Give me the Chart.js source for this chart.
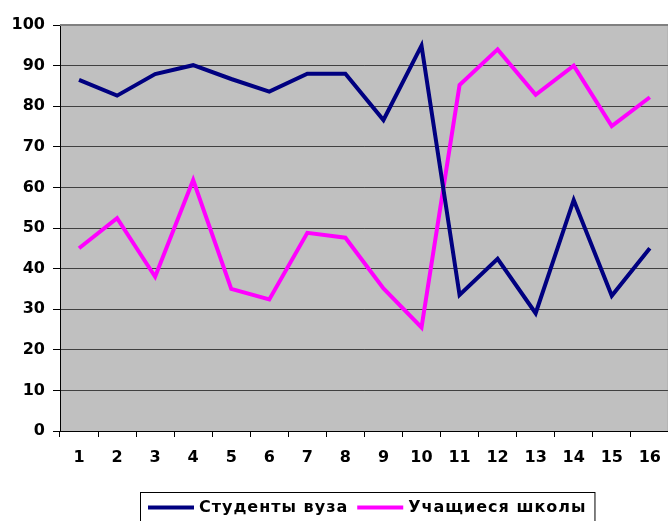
<!DOCTYPE html>
<html>
<head>
<meta charset="utf-8">
<script src="https://cdn.jsdelivr.net/npm/chart.js@4/dist/chart.umd.min.js"></script>
<style>
  html, body { margin: 0; padding: 0; background: #fff; overflow: hidden; }
  canvas { display: block; }
</style>
</head>
<body>
<canvas id="chart" width="672" height="521"></canvas>
<script>
// Survey groups, one point per question number
const categories = ['1','2','3','4','5','6','7','8','9','10','11','12','13','14','15','16'];
const studentsUni = [86.5, 82.6, 87.9, 90.1, 86.7, 83.6, 88, 88, 76.6, 94.9, 33.5, 42.4, 29, 56.9, 33.3, 45];
const schoolPupils = [45, 52.4, 38, 61.8, 35, 32.4, 48.8, 47.6, 35.1, 25.5, 85.2, 94, 82.8, 90, 75.1, 82.2];
const seriesNames = ['Студенты вуза', 'Учащиеся школы'];
const yTicks = { min: 0, max: 100, step: 10 };

const tickFont = { family: 'DejaVu Sans', size: 16, weight: 'bold' };

// Gray plot area and its border
const plotArea = {
  id: 'plotArea',
  beforeDraw(chart) {
    const { ctx, chartArea: a } = chart;
    ctx.save();
    ctx.fillStyle = '#C0C0C0';
    ctx.fillRect(a.left, a.top, a.right - a.left, a.bottom - a.top);
    ctx.restore();
  },
  beforeDatasetsDraw(chart) {
    const { ctx, chartArea: a } = chart;
    ctx.save();
    ctx.strokeStyle = '#808080';
    ctx.lineWidth = 2;
    ctx.beginPath();
    ctx.moveTo(a.left, a.top);
    ctx.lineTo(a.right, a.top);
    ctx.lineTo(a.right, a.bottom);
    ctx.stroke();
    ctx.restore();
  }
};

// Framed legend below the axis labels
const boxedLegend = {
  id: 'boxedLegend',
  afterDraw(chart) {
    const { ctx, chartArea: a } = chart;
    const pad = 8, sample = 46, gap = 5, itemGap = 9;
    const cy = 507.5;
    ctx.save();
    ctx.font = 'bold 16px "DejaVu Sans"';
    ctx.letterSpacing = '1px';
    ctx.textBaseline = 'middle';
    const items = chart.data.datasets.map(ds => ({
      label: ds.label, color: ds.borderColor, w: ctx.measureText(ds.label).width
    }));
    let total = pad * 2 - itemGap;
    items.forEach(it => { total += sample + gap + it.w + itemGap; });
    const left = Math.round((a.left + a.right) / 2 + 3 - total / 2);
    ctx.strokeStyle = '#000';
    ctx.lineWidth = 1;
    ctx.strokeRect(left + 0.5, 492.5, total, 34);
    let x = left + pad;
    items.forEach(it => {
      ctx.strokeStyle = it.color;
      ctx.lineWidth = 4;
      ctx.beginPath();
      ctx.moveTo(x, cy);
      ctx.lineTo(x + sample, cy);
      ctx.stroke();
      x += sample + gap;
      ctx.fillStyle = '#000';
      ctx.fillText(it.label, x, cy);
      x += it.w + itemGap;
    });
    ctx.restore();
  }
};

const lineStyle = { borderWidth: 4, pointRadius: 0, tension: 0, borderJoinStyle: 'miter', borderCapStyle: 'butt', fill: false };

new Chart(document.getElementById('chart'), {
  type: 'line',
  data: {
    labels: categories,
    datasets: [
      Object.assign({ label: seriesNames[0], data: studentsUni, borderColor: '#000080', backgroundColor: '#000080' }, lineStyle),
      Object.assign({ label: seriesNames[1], data: schoolPupils, borderColor: '#FF00FF', backgroundColor: '#FF00FF' }, lineStyle)
    ]
  },
  options: {
    responsive: false,
    animation: false,
    devicePixelRatio: 1,
    layout: { padding: { left: 0, right: 1.5, top: 25, bottom: 0 } },
    plugins: { legend: { display: false }, tooltip: { enabled: false } },
    scales: {
      x: {
        type: 'category',
        offset: true,
        afterFit(s) { s.height = 90; },
        grid: { offset: true, drawOnChartArea: false, tickLength: 6, tickColor: '#000', color: '#000' },
        border: { color: '#000', width: 1 },
        ticks: { color: '#000', font: tickFont, padding: 11, maxRotation: 0, autoSkip: false }
      },
      y: {
        min: yTicks.min,
        max: yTicks.max,
        afterFit(s) { s.width = 60; },
        grid: { color: '#404040', lineWidth: 1, tickLength: 7, tickColor: '#000' },
        border: { color: '#000', width: 1 },
        ticks: { stepSize: yTicks.step, color: '#000', font: tickFont, padding: 8 }
      }
    }
  },
  plugins: [plotArea, boxedLegend]
});
</script>
</body>
</html>
